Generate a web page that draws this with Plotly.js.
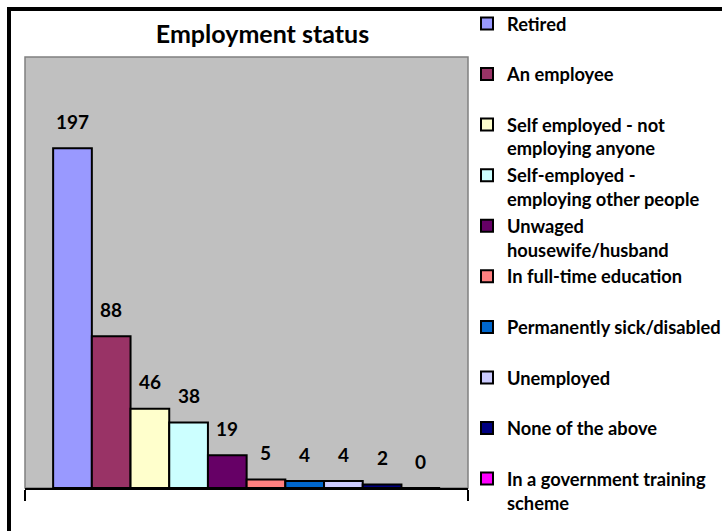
<!DOCTYPE html>
<html>
<head>
<meta charset="utf-8">
<script src="https://cdn.plot.ly/plotly-3.0.1.min.js"></script>
<style>
  html, body { margin: 0; padding: 0; background: #fff; overflow: hidden; }
  #chart { position: absolute; left: 0; top: 0; width: 722px; height: 531px; }
  #frame { position: absolute; left: 7px; top: 7px; width: 800px; height: 600px;
           border-left: 4px solid #000; border-top: 4px solid #000; pointer-events: none; }
</style>
</head>
<body>
<div id="chart"></div>
<div id="frame"></div>
<script>
// ---- data ----
const categories = [
  'Retired',
  'An employee',
  'Self employed - not<br>employing anyone',
  'Self-employed -<br>employing other people',
  'Unwaged<br>housewife/husband',
  'In full-time education',
  'Permanently sick/disabled',
  'Unemployed',
  'None of the above',
  'In a government training<br>scheme'
];
const values = [197, 88, 46, 38, 19, 5, 4, 4, 2, 0];
const colors = ['#9999FF', '#993366', '#FFFFCC', '#CCFFFF', '#660066',
                '#FF8080', '#0066CC', '#CCCCFF', '#000080', '#FF00FF'];

const FONT = 'Lato, "Open Sans", sans-serif';
const xRange = [-1.227, 10.22];

const traces = categories.map((name, i) => ({
  type: 'bar',
  x: [i],
  y: [values[i]],
  width: 1,
  name: name.indexOf('<br>') >= 0 ? name : name + '<br> ',
  legendgroup: 'g' + i,
  marker: { color: colors[i], line: { color: '#000', width: 2 } },
  hoverinfo: 'name+y'
}));

const annotations = values.map((v, i) => ({
  x: i, y: v, xref: 'x', yref: 'y',
  text: String(v), showarrow: false,
  yanchor: 'middle', yshift: 27,
  font: { family: FONT, size: 19, color: '#000', weight: 'bold' }
}));

const layout = {
  width: 722, height: 531,
  margin: { l: 25, r: 254, t: 57, b: 43, autoexpand: false },
  paper_bgcolor: '#FFFFFF',
  plot_bgcolor: '#C0C0C0',
  barmode: 'overlay',
  title: {
    text: 'Employment status',
    x: 262.5 / 722, xref: 'container', xanchor: 'center',
    y: 1 - 34 / 531, yref: 'container', yanchor: 'middle',
    font: { family: FONT, size: 25, color: '#000', weight: 'bold' }
  },
  xaxis: {
    range: xRange, showgrid: false, zeroline: false,
    showline: true, linecolor: '#000', linewidth: 2,
    ticks: 'outside', ticklen: 11, tickwidth: 2, tickcolor: '#000',
    tickvals: xRange, ticktext: ['', ''], fixedrange: true
  },
  yaxis: { range: [0, 250], visible: false, fixedrange: true },
  shapes: [{
    type: 'rect', xref: 'paper', yref: 'paper', x0: 0, x1: 1, y0: 0, y1: 1,
    line: { color: '#808080', width: 1.5 }, layer: 'below'
  }],
  annotations: annotations,
  showlegend: true,
  legend: {
    x: 467 / 722, xref: 'container', xanchor: 'left',
    y: 1 - 5 / 531, yref: 'container', yanchor: 'top',
    traceorder: 'grouped', tracegroupgap: 0, valign: 'top',
    maxheight: 600,
    bgcolor: 'rgba(0,0,0,0)', borderwidth: 0, itemwidth: 30,
    font: { family: FONT, size: 18.3, color: '#000', weight: 'bold' }
  }
};

Plotly.newPlot('chart', traces, layout, { displayModeBar: false, staticPlot: true });
</script>
</body>
</html>
